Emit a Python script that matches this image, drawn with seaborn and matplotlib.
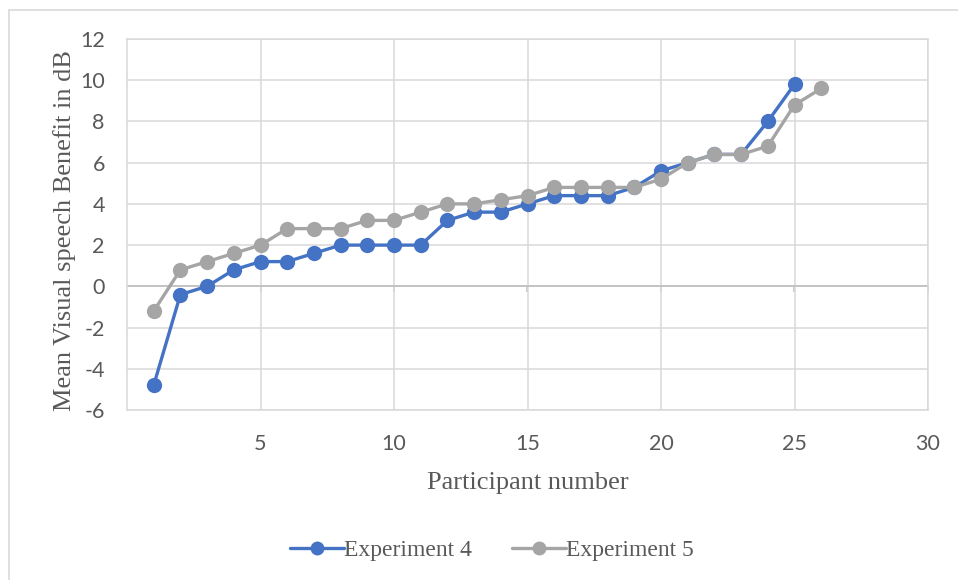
import matplotlib
matplotlib.use("Agg")
import matplotlib.pyplot as plt
import matplotlib.lines as mlines
import numpy as np
import pandas as pd
import seaborn as sns

# Mean visual speech benefit (dB) per participant, sorted ascending
participants_exp4 = list(range(1, 26))
benefit_exp4 = [-4.8, -0.4, 0.0, 0.8, 1.2, 1.2, 1.6, 2.0, 2.0, 2.0, 2.0, 3.2, 3.6,
                3.6, 4.0, 4.4, 4.4, 4.4, 4.8, 5.6, 6.0, 6.4, 6.4, 8.0, 9.8]
participants_exp5 = list(range(1, 27))
benefit_exp5 = [-1.2, 0.8, 1.2, 1.6, 2.0, 2.8, 2.8, 2.8, 3.2, 3.2, 3.6, 4.0, 4.0,
                4.2, 4.4, 4.8, 4.8, 4.8, 4.8, 5.2, 6.0, 6.4, 6.4, 6.8, 8.8, 9.6]
series_names = ["Experiment 4", "Experiment 5"]
series_colors = ["#4472C4", "#A5A5A5"]
x_ticks = [5, 10, 15, 20, 25, 30]
y_ticks = [-6, -4, -2, 0, 2, 4, 6, 8, 10, 12]

df = pd.concat([
    pd.DataFrame({"participant": participants_exp4, "benefit": benefit_exp4,
                  "series": series_names[0]}),
    pd.DataFrame({"participant": participants_exp5, "benefit": benefit_exp5,
                  "series": series_names[1]}),
], ignore_index=True)

sns.set_theme(style="white")
plt.rcParams["font.family"] = ["DejaVu Sans"]
plt.rcParams["axes.unicode_minus"] = False

fig = plt.figure(figsize=(9.58, 5.8), dpi=100)
ax = fig.add_axes([127 / 958, 1 - 410 / 580, (928 - 127) / 958, (410 - 39) / 580])

grid_c = "#D9D9D9"
tick_c = "#595959"

sns.lineplot(data=df, x="participant", y="benefit", hue="series",
             palette=dict(zip(series_names, series_colors)), marker="o",
             markersize=11, markeredgewidth=0, linewidth=2.4, ax=ax,
             legend=False, zorder=3)

ax.set_xlim(0, 30)
ax.set_ylim(-6, 12)
ax.set_xticks(x_ticks)
ax.set_yticks(y_ticks)
ax.grid(True, color=grid_c, linewidth=1.1)
ax.set_axisbelow(True)
for s in ax.spines.values():
    s.set_color(grid_c)
    s.set_linewidth(1.1)

ax.tick_params(axis="x", length=0, pad=17.5)
ax.tick_params(axis="y", length=0, pad=16)
for lab in ax.get_xticklabels() + ax.get_yticklabels():
    lab.set_fontfamily("Lato")
    lab.set_fontsize(15.5)
    lab.set_color(tick_c)

# horizontal axis line crossing at zero, with outward tick marks
ax.axhline(0, color="#BFBFBF", linewidth=1.2, zorder=1.5)
zero_frac = (0 - (-6)) / (12 - (-6))
sec = ax.secondary_xaxis(zero_frac)
sec.set_xticks(x_ticks)
sec.tick_params(axis="x", direction="out", length=4, width=1.1, color="#BFBFBF",
                labelbottom=False, labeltop=False, bottom=True, top=False)
for s in sec.spines.values():
    s.set_visible(False)

label_font = dict(family="Liberation Serif", size=19, color=tick_c)
ax.set_xlabel("Participant number", fontdict=label_font)
ax.set_ylabel("Mean Visual speech Benefit in dB", fontdict=label_font)
ax.xaxis.set_label_coords(0.5, -(472 - 410) / 371)
ax.yaxis.set_label_coords((65 - 127) / 801, 0.485)
ax.yaxis.label.set_va("center")

handles = [mlines.Line2D([], [], color=c, marker="o", markersize=10,
                         markeredgewidth=0, linewidth=2.4)
           for c in series_colors]
fig.legend(handles, series_names, loc="center", bbox_to_anchor=(492 / 958, 1 - 550 / 580),
           ncol=2, frameon=False, handlelength=2.3, handletextpad=0.0,
           columnspacing=1.7, prop=dict(family="Liberation Serif", size=17),
           labelcolor=tick_c)

# chart area frame
fig.add_artist(mlines.Line2D([8.5 / 958, 8.5 / 958], [0, 1 - 10 / 580],
                             transform=fig.transFigure, color=grid_c, linewidth=1.2))
fig.add_artist(mlines.Line2D([8.5 / 958, 1], [1 - 10 / 580, 1 - 10 / 580],
                             transform=fig.transFigure, color=grid_c, linewidth=1.2))

fig.savefig("out.png", dpi=100, facecolor="white")
